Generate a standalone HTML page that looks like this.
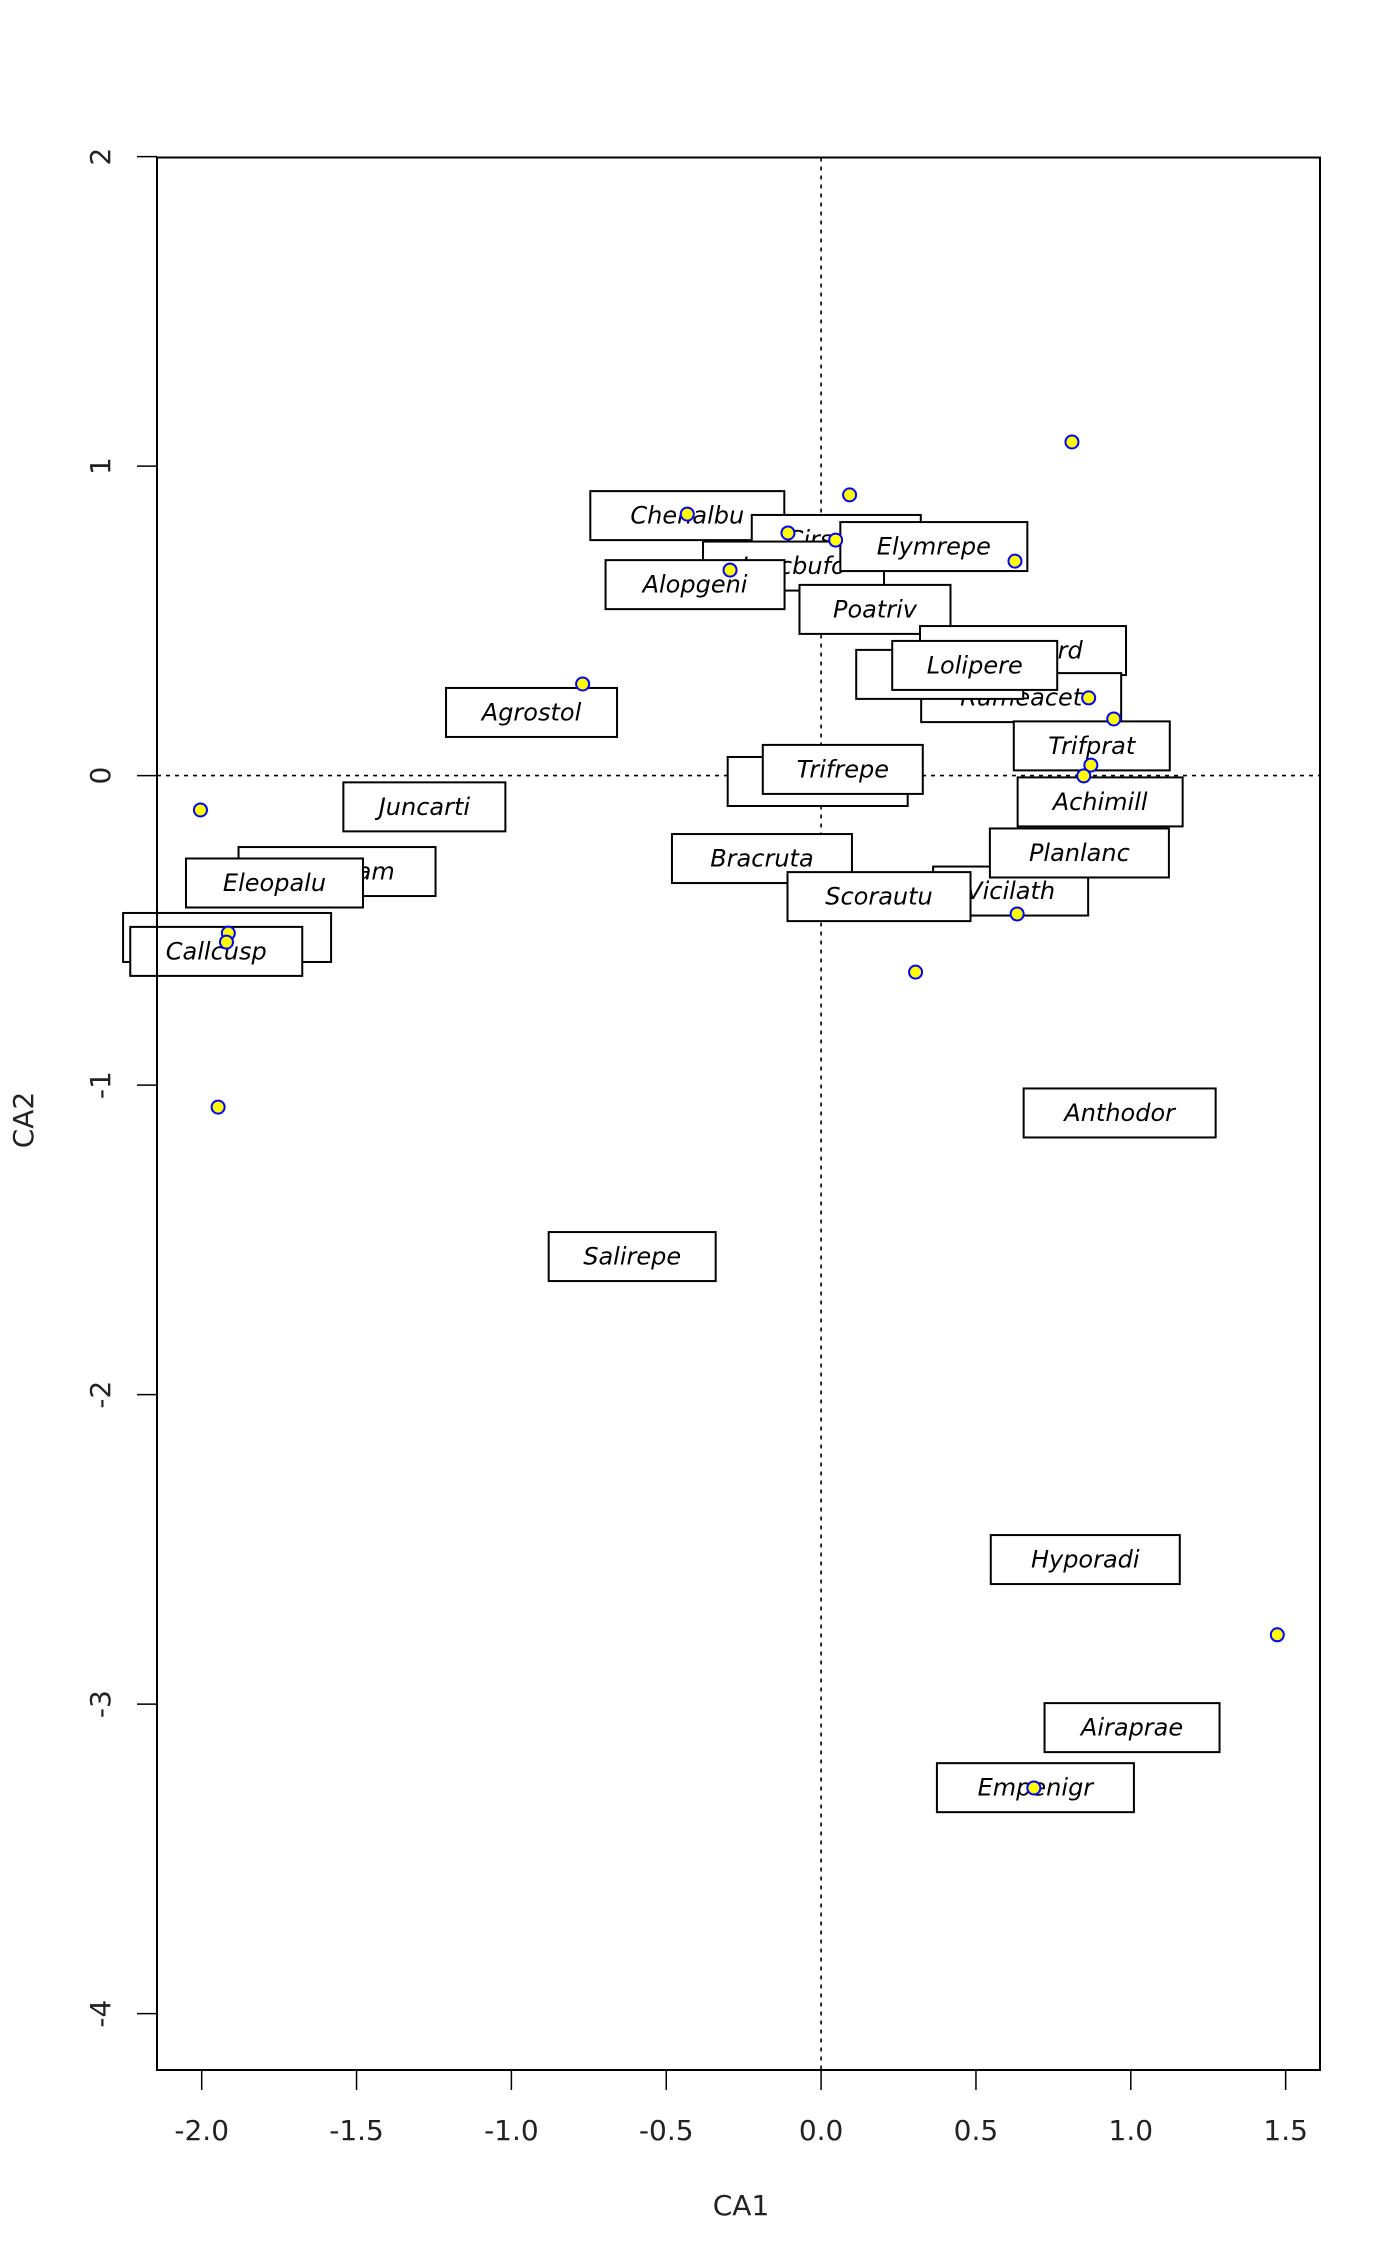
<!DOCTYPE html>
<html>
<head>
<meta charset="utf-8">
<style>
html,body{margin:0;padding:0;background:#fff;}
svg{display:block;font-family:"DejaVu Sans","Liberation Sans",sans-serif;}
</style>
</head>
<body>
<svg id="chart" width="1400" height="2266" viewBox="0 0 1400 2266" xmlns="http://www.w3.org/2000/svg"></svg>
<script>
const xTicks = [-2.0, -1.5, -1.0, -0.5, 0.0, 0.5, 1.0, 1.5];
const xTickLabels = ["-2.0","-1.5","-1.0","-0.5","0.0","0.5","1.0","1.5"];
const yTicks = [2, 1, 0, -1, -2, -3, -4];
const yTickLabels = ["2","1","0","-1","-2","-3","-4"];

const siteX = [0.810, 0.092, -0.432, -0.107, 0.047, 0.626, -0.294, 0.864, 0.945, 0.871, 0.848, -0.770, 0.633, 0.305, -2.004, -1.914, -1.920, -1.947, 1.473, 0.687];
const siteY = [1.078, 0.907, 0.845, 0.784, 0.761, 0.693, 0.664, 0.251, 0.183, 0.034, -0.001, 0.296, -0.447, -0.635, -0.111, -0.509, -0.538, -1.071, -2.776, -3.271];

const speciesNames = ["Chenalbu","Cirsarve","Juncbufo","Alopgeni","Elymrepe","Poatriv","Bromhord","Rumeacet","Poaprat","Lolipere","Trifprat","Agrostol","Sagiproc","Trifrepe","Achimill","Juncarti","Bracruta","Vicilath","Planlanc","Scorautu","Ranuflam","Eleopalu","Comapalu","Callcusp","Anthodor","Salirepe","Hyporadi","Airaprae","Empenigr"];
const speciesX = [-0.432, 0.049, -0.089, -0.407, 0.364, 0.174, 0.652, 0.646, 0.383, 0.496, 0.874, -0.935, -0.011, 0.070, 0.901, -1.281, -0.191, 0.612, 0.834, 0.187, -1.563, -1.765, -1.918, -1.953, 0.964, -0.610, 0.853, 1.004, 0.692];
const speciesY = [0.840, 0.763, 0.677, 0.617, 0.740, 0.537, 0.404, 0.252, 0.327, 0.356, 0.096, 0.204, -0.019, 0.020, -0.085, -0.101, -0.268, -0.373, -0.250, -0.391, -0.310, -0.347, -0.523, -0.568, -1.090, -1.554, -2.533, -3.076, -3.270];
// label box widths (styling)
const labelBoxW = [194,169,181,179,187,151,206,200,167,165,156,171,180,160,165,162,180,155,179,183,197,177,208,172,192,167,189,175,197];

const X0 = 821.1, XU = 309.7, Y0 = 775.6, YU = 309.5;
function sx(v){ return X0 + v*XU; }
function sy(v){ return Y0 - v*YU; }
const L = 157, R = 1320, T = 157.5, B = 2070;
const NS = "http://www.w3.org/2000/svg";
const svg = document.getElementById('chart');
function mk(tag, attrs, parent){
  const e = document.createElementNS(NS, tag);
  for (const k in attrs) e.setAttribute(k, attrs[k]);
  (parent||svg).appendChild(e);
  return e;
}

let zl = mk('line',{x1:sx(0),x2:sx(0),y1:T,y2:B,stroke:'#000','stroke-width':1.6,'stroke-dasharray':'4 5'});


let zh = mk('line',{x1:L,x2:R,y1:sy(0),y2:sy(0),stroke:'#000','stroke-width':1.6,'stroke-dasharray':'4 5'});



const labG = mk('g',{});


for (let i=0;i<speciesNames.length;i++){
  const cx = sx(speciesX[i]), cy = sy(speciesY[i]), w = labelBoxW[i], h = 49;
  const g = mk('g',{},labG);
  
  
  mk('rect',{x:cx-w/2,y:cy-h/2,width:w,height:h,fill:'#fff',stroke:'#000','stroke-width':2},g);
  const t = mk('text',{x:cx,y:cy+8,'text-anchor':'middle','font-size':24,'font-style':'italic',fill:'#000'},g);
  t.textContent = speciesNames[i];
}

const ptG = mk('g',{});


for (let i=0;i<siteX.length;i++){
  const c = mk('circle',{cx:sx(siteX[i]),cy:sy(siteY[i]),r:6.5,fill:'#ffff00',stroke:'#0000ff','stroke-width':2},ptG);
  
  
}

let box = mk('rect',{x:L,y:T,width:R-L,height:B-T,fill:'none',stroke:'#000','stroke-width':2});



const xa = mk('g',{});


for (let i=0;i<xTicks.length;i++){
  const x = sx(xTicks[i]);
  mk('line',{x1:x,x2:x,y1:B,y2:B+20,stroke:'#000','stroke-width':1.5},xa);
  const t = mk('text',{x:x,y:2140,'text-anchor':'middle','font-size':28,fill:'#222'},xa);
  
  
  t.textContent = xTickLabels[i];
}
mk('line',{x1:sx(xTicks[0]),x2:sx(xTicks[xTicks.length-1]),y1:B,y2:B,stroke:'#000','stroke-width':1.5},xa);
const xt = mk('text',{x:741,y:2215,'text-anchor':'middle','font-size':28,fill:'#222'});


xt.textContent = 'CA1';

const ya = mk('g',{});


for (let i=0;i<yTicks.length;i++){
  const y = sy(yTicks[i]);
  mk('line',{x1:L-20,x2:L,y1:y,y2:y,stroke:'#000','stroke-width':1.5},ya);
  const t = mk('text',{x:110,y:y,'text-anchor':'middle','font-size':28,fill:'#222',transform:'rotate(-90 110 '+y+')'},ya);
  
  
  t.textContent = yTickLabels[i];
}
const yt = mk('text',{x:33,y:1120,'text-anchor':'middle','font-size':28,fill:'#222',transform:'rotate(-90 33 1120)'});


yt.textContent = 'CA2';
</script>
</body>
</html>
